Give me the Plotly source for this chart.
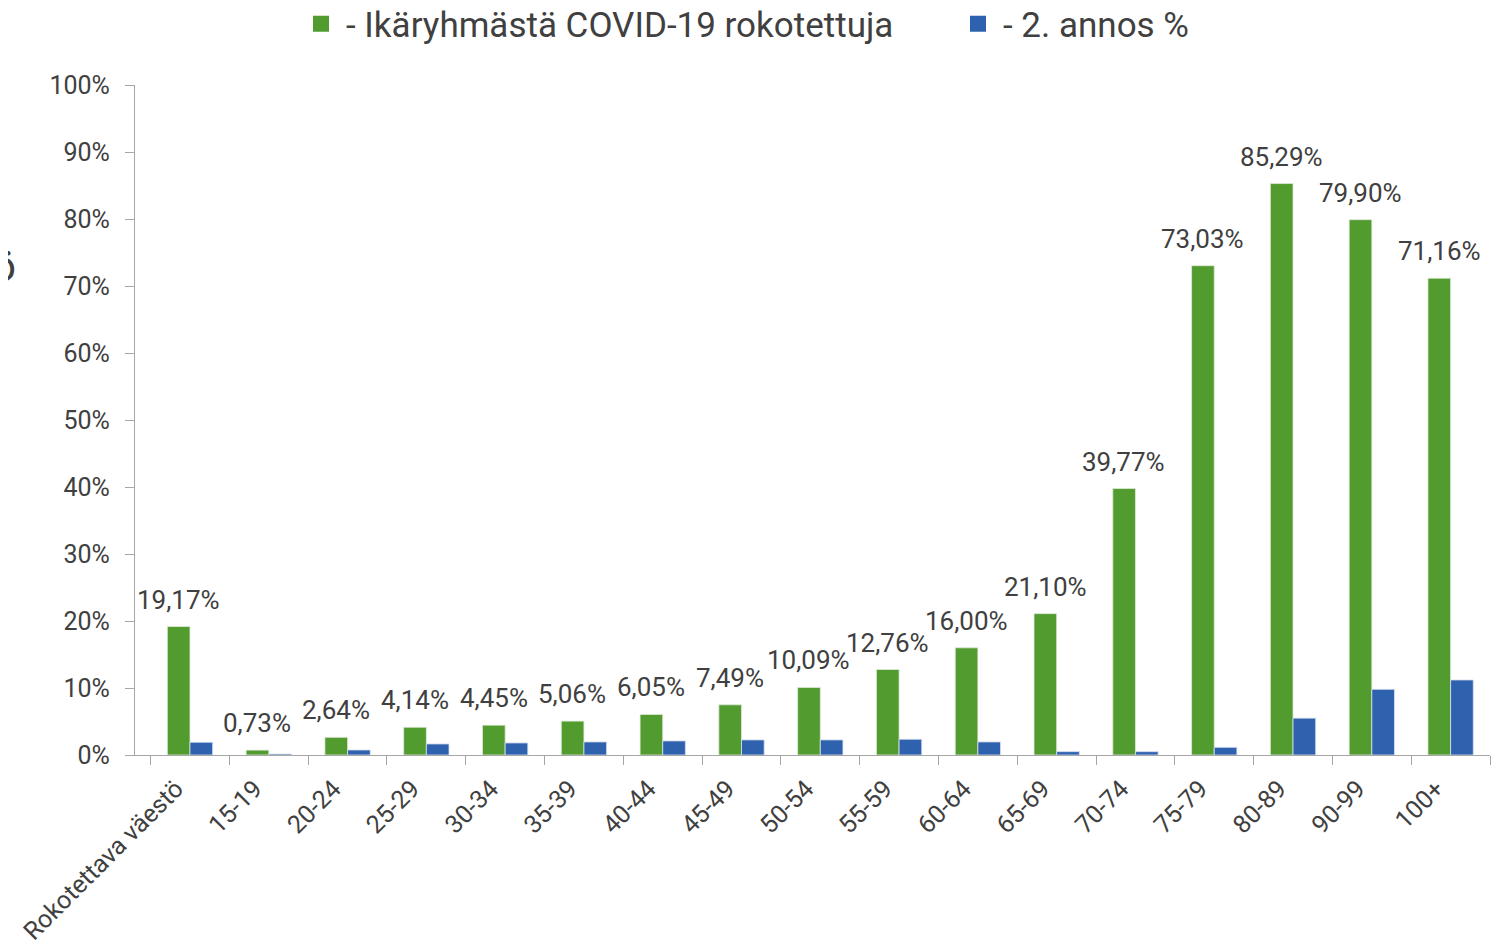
import plotly.graph_objects as go

categories = ["Rokotettava väestö", "15-19", "20-24", "25-29", "30-34", "35-39", "40-44",
              "45-49", "50-54", "55-59", "60-64", "65-69", "70-74", "75-79", "80-89",
              "90-99", "100+"]
first_dose = [19.17, 0.73, 2.64, 4.14, 4.45, 5.06, 6.05, 7.49, 10.09, 12.76, 16.00,
              21.10, 39.77, 73.03, 85.29, 79.90, 71.16]
second_dose = [1.9, 0.15, 0.75, 1.65, 1.8, 1.95, 2.1, 2.25, 2.25, 2.35, 1.95,
               0.5, 0.5, 1.15, 5.5, 9.8, 11.2]
y_ticks = [0, 10, 20, 30, 40, 50, 60, 70, 80, 90, 100]
series_names = ["- Ikäryhmästä COVID-19 rokotettuja", "- 2. annos %"]

GREEN = "#519b2f"
BLUE = "#2f62ae"
TEXT = "#404040"
FONT = "Roboto"

fig = go.Figure()
fig.add_trace(go.Bar(x=categories, y=first_dose, name=series_names[0], showlegend=False,
                     marker=dict(color=GREEN, line=dict(color="#dfeadb", width=0.8))))
fig.add_trace(go.Bar(x=categories, y=second_dose, name=series_names[1], showlegend=False,
                     marker=dict(color=BLUE, line=dict(color="#d9e1ef", width=0.8))))
# legend entries with larger square swatches
for name, col in zip(series_names, [GREEN, BLUE]):
    fig.add_trace(go.Scatter(x=[None], y=[None], mode="markers", name=name,
                             marker=dict(symbol="square", size=22, color=col)))

for c, v in zip(categories, first_dose):
    fig.add_annotation(x=c, y=v, xref="x", yref="y", text=f"{v:.2f}%".replace(".", ","),
                       showarrow=False, yshift=27, xshift=-11.5,
                       font=dict(family=FONT, size=26, color=TEXT))

# page is offset by 8px (body margin); layout numbers below account for it
L, T, PW, PH = 127, 77, 1355, 670

# partially clipped glyph at the left edge
fig.add_annotation(x=(-4 - L) / PW, y=(PH + T - 258) / PH, xref="paper", yref="paper",
                   text="ö", showarrow=False, xanchor="center", yanchor="middle",
                   font=dict(family=FONT, size=42, color=TEXT))

fig.update_layout(
    width=1506, height=943,
    margin=dict(l=L, r=1506 - L - PW, t=T, b=943 - T - PH, autoexpand=False),
    paper_bgcolor="white", plot_bgcolor="white",
    barmode="group", bargap=0.425, bargroupgap=0,
    font=dict(family=FONT, color=TEXT),
    showlegend=True,
    legend=dict(orientation="h", x=(311 - 8 - L - 15) / PW, xanchor="left",
                y=(PH + T - 16) / PH, yanchor="middle",
                font=dict(family=FONT, size=35, color=TEXT), entrywidth=602,
                entrywidthmode="pixels", itemwidth=40, traceorder="normal",
                itemsizing="trace"),
)
fig.update_xaxes(type="category", tickson="boundaries", ticks="outside", ticklen=9,
                 tickcolor="#a6a6a6", showline=True, linecolor="#a6a6a6", linewidth=1.3,
                 tickangle=-45, tickfont=dict(family=FONT, size=25, color=TEXT),
                 ticklabelshift=-14, ticklabelstandoff=8,
                 showgrid=False, automargin=False)
fig.update_yaxes(range=[0, 100], tickvals=y_ticks, ticktext=[f"{t}%" for t in y_ticks],
                 ticks="outside", ticklen=9, tickcolor="#a6a6a6", showline=True,
                 linecolor="#a6a6a6", linewidth=1.3, showgrid=False, zeroline=False,
                 tickfont=dict(family=FONT, size=25, color=TEXT), ticklabelstandoff=10,
                 automargin=False)

fig.write_html("out.html")
